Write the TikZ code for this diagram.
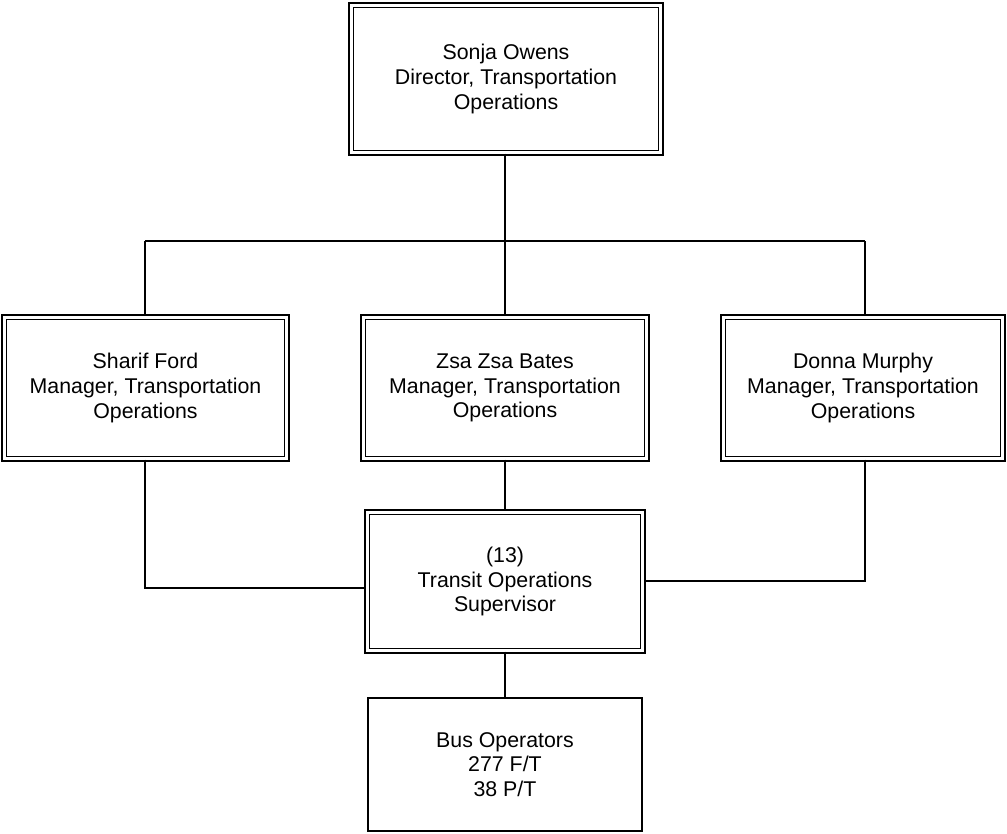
\documentclass[tikz,border=0pt]{standalone}
\usepackage{fontspec}
\setmainfont{Liberation Sans}
\begin{document}
\begin{tikzpicture}[x=0.75pt,y=-0.75pt,
  every node/.style={align=center,font=\fontsize{16pt}{18.6pt}\selectfont,inner sep=0pt},
  dbox/.style={draw=black,line width=1.2pt,double=white,double distance=2.1pt},
  sbox/.style={draw=black,line width=1.2pt},
  conn/.style={draw=black,line width=1.4pt}]
\useasboundingbox (0,0) rectangle (1007,833);
\node[dbox,minimum width=232.1pt,minimum height=110.6pt] (top) at (506,79)
  {Sonja Owens\\Director, Transportation\\Operations};
\node[dbox,minimum width=211.9pt,minimum height=106.1pt] (left) at (145.5,388)
  {Sharif Ford\\Manager, Transportation\\Operations};
\node[dbox,minimum width=212.6pt,minimum height=106.1pt] (mid) at (505,388)
  {Zsa Zsa Bates\\Manager, Transportation\\Operations};
\node[dbox,minimum width=209.6pt,minimum height=106.1pt] (right) at (863,388)
  {Donna Murphy\\Manager, Transportation\\Operations};
\node[dbox,minimum width=206.6pt,minimum height=103.9pt] (trans) at (505,581.5)
  {(13)\\Transit Operations\\Supervisor};
\node[sbox,minimum width=205.9pt,minimum height=100.1pt] (bus) at (505,764.5)
  {Bus Operators\\277 F/T\\38 P/T};
\coordinate (j) at (505,241);
\coordinate (jl) at (145,241);
\coordinate (jr) at (865,241);
\coordinate (ll) at (145,588);
\coordinate (rr) at (865,581);
\draw[conn] (top.south -| j) -- (j);
\draw[conn] (jl) -- (jr);
\draw[conn] (jl) -- (jl |- left.north);
\draw[conn] (j) -- (mid.north);
\draw[conn] (jr) -- (jr |- right.north);
\draw[conn] (ll |- left.south) -- (ll) -- (ll -| trans.west);
\draw[conn] (rr |- right.south) -- (rr) -- (rr -| trans.east);
\draw[conn] (mid.south) -- (trans.north);
\draw[conn] (trans.south) -- (bus.north);
\end{tikzpicture}
\end{document}
